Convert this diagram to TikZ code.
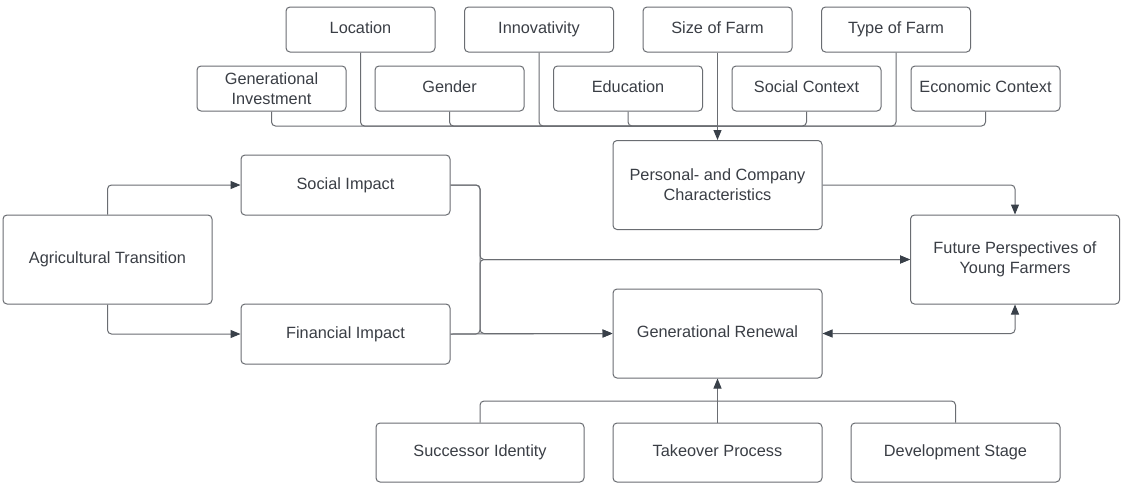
\documentclass[tikz,border=0pt]{standalone}
\usepackage{fontspec}
\setmainfont{Liberation Sans}
\usepackage{tikz}
\usetikzlibrary{calc,arrows.meta}

\definecolor{boxline}{HTML}{6A6D72}
\definecolor{ink}{HTML}{3A3E45}
\definecolor{tip}{HTML}{394049}

\begin{document}
\begin{tikzpicture}[x=1pt,y=-1pt,
  box/.style={draw=boxline, line width=1pt, rounded corners=4pt, fill=white,
    text=ink, align=center, inner sep=0pt,
    font=\fontsize{16.3}{20}\selectfont},
  oneline/.style={text height=11.7pt, text depth=3.4pt},
  small/.style={box, oneline, minimum width=149pt, minimum height=45pt},
  big/.style={box, minimum width=209pt, minimum height=89pt},
  flat/.style={box, oneline, minimum width=209pt, minimum height=60pt},
  base/.style={box, oneline, minimum width=209pt, minimum height=59pt},
  wire/.style={draw=boxline, line width=1pt, rounded corners=4pt},
  arr/.style={wire, -{Triangle[length=10pt,width=8pt,color=tip]}}]

  \fill[white] (0,0) rectangle (1121,485);
  \useasboundingbox (0,0) rectangle (1121,485);

  % factors, upper and lower row
  \node[small] (loc)  at (360.5,29.5) {Location};
  \node[small] (inno) at (539,29.5)   {Innovativity};
  \node[small] (size) at (717.5,29.5) {Size of Farm};
  \node[small] (type) at (896,29.5)   {Type of Farm};

  \node[box, minimum width=149pt, minimum height=45pt] (geninv) at (271.5,88.5)
    {Generational\\Investment};
  \node[small] (gender) at (449.5,88.5) {Gender};
  \node[small] (edu)    at (628,88.5)   {Education};
  \node[small] (soc)    at (806.5,88.5) {Social Context};
  \node[small] (eco)    at (985.5,88.5) {Economic Context};

  \node[big]  (pc)  at (717.5,185)   {Personal- and Company\\Characteristics};
  \node[big]  (fut) at (1015,259.5)  {Future Perspectives of\\Young Farmers};
  \node[big, oneline] (at) at (107.5,259.5) {Agricultural Transition};
  \node[flat] (si)  at (345.5,185)   {Social Impact};
  \node[flat] (fi)  at (345.5,334)   {Financial Impact};
  \node[big, oneline] (gr) at (717.5,333.5) {Generational Renewal};

  \node[base, minimum width=208pt] (succ) at (480,452.5) {Successor Identity};
  \node[base] (take) at (717.5,452.5) {Takeover Process};
  \node[base] (dev)  at (955.5,452.5) {Development Stage};

  \coordinate (bus) at (717.5,126);
  \coordinate (split) at (480,259.5);
  \coordinate (tree) at (717.5,401);

  \draw[wire] (geninv.south) |- (bus);
  \draw[wire] (loc.south) |- (bus);
  \draw[wire] (gender.south) |- (bus);
  \draw[wire] (inno.south) |- (bus);
  \draw[wire] (edu.south) |- (bus);
  \draw[wire] (soc.south) |- (bus);
  \draw[wire] (type.south) |- (bus);
  \draw[wire] (eco.south) |- (bus);
  \draw[arr] (size.south) -- (pc.north);

  \draw[arr] (at.north) |- (si.west);
  \draw[arr] (at.south) |- (fi.west);

  \draw[arr] (si.east) -| (split) -- (fut.west);
  \draw[arr] (si.east) -| (split |- gr.west) -- (gr.west);
  \draw[arr] (fi.east) -| (split) -- (fut.west);
  \draw[arr] (fi.east) -- (gr.west);

  \draw[arr] (pc.east) -| (fut.north);
  \draw[wire, {Triangle[length=10pt,width=8pt,color=tip]}-{Triangle[length=10pt,width=8pt,color=tip]}]
    (gr.east) -| (fut.south);

  \draw[wire] (succ.north) |- (tree);
  \draw[wire] (dev.north) |- (tree);
  \draw[arr] (take.north) -- (gr.south);

\end{tikzpicture}
\end{document}
